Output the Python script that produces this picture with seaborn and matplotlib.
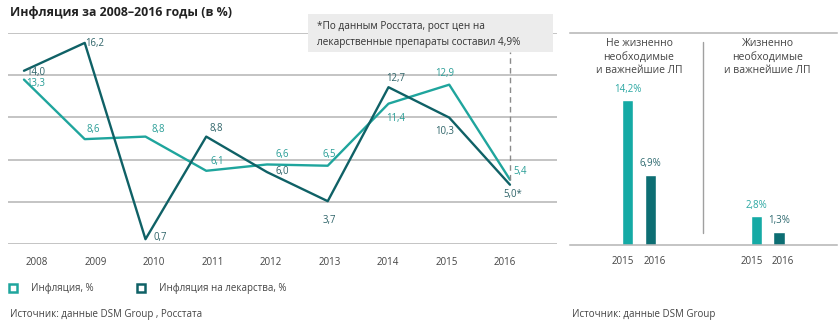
import numpy as np
import pandas as pd
import matplotlib
matplotlib.use("Agg")
import matplotlib.pyplot as plt
from matplotlib.patches import Rectangle
from matplotlib.lines import Line2D
import seaborn as sns

# ---------------- data ----------------
years = ["2008", "2009", "2010", "2011", "2012", "2013", "2014", "2015", "2016"]
inflation = [13.3, 8.6, 8.8, 6.1, 6.6, 6.5, 11.4, 12.9, 5.4]
drug_inflation = [14.0, 16.2, 0.7, 8.8, 6.0, 3.7, 12.7, 10.3, 5.0]
series_names = ["Инфляция, %", "Инфляция на лекарства, %"]

bar_groups = ["Не жизненно\nнеобходимые\nи важнейшие ЛП", "Жизненно\nнеобходимые\nи важнейшие ЛП"]
bar_years = ["2015", "2016"]
bar_values_2015 = [14.2, 2.8]
bar_values_2016 = [6.9, 1.3]

title = "Инфляция за 2008–2016 годы (в %)"
note = "*По данным Росстата, рост цен на\nлекарственные препараты составил 4,9%"
source_left = "Источник: данные DSM Group , Росстата"
source_right = "Источник: данные DSM Group"

# ---------------- style ----------------
LIGHT = "#1fa59d"
DARK = "#0f6166"
BAR_LIGHT = "#15aaa5"
BAR_DARK = "#0d6e73"
GRID = "#b4b4b4"
TXT = "#444444"

sns.set_theme(style="white")
plt.rcParams["font.family"] = ["Open Sans", "DejaVu Sans"]

W, H = 840, 330
fig = plt.figure(figsize=(W / 100, H / 100), dpi=100)
fig.patch.set_facecolor("white")


def fx(px):
    return px / W


def fy(py):
    return 1 - py / H


def axes_rect(left, top, right, bottom):
    return [fx(left), fy(bottom), fx(right) - fx(left), (bottom - top) / H]


# ---------------- line chart ----------------
ax = fig.add_axes(axes_rect(8, 33, 557, 244))
xpos = np.arange(len(years))
df = pd.DataFrame({"x": np.concatenate([xpos, xpos]),
                   "value": inflation + drug_inflation,
                   "series": [series_names[0]] * len(years) + [series_names[1]] * len(years)})
sns.lineplot(data=df, x="x", y="value", hue="series", hue_order=series_names,
             palette=[LIGHT, DARK], linewidth=1.7, legend=False, ax=ax)

ax.set_xlim(-0.263, 8.774)
ymin, ymax = 0.32, 16.98
ax.set_ylim(ymin, ymax)
ax.set_yticks(np.linspace(ymin, ymax, 6))
ax.set_yticklabels([])
ax.grid(axis="y", color=GRID, linewidth=1.1)
ax.grid(axis="x", visible=False)
for s in ax.spines.values():
    s.set_visible(False)
ax.set_xlabel("")
ax.set_ylabel("")
ax.tick_params(axis="y", length=0)
# year labels (slightly offset from the points, as in the original)
tick_pos = 0.214 + 0.963 * np.arange(len(years))
ax.set_xticks(tick_pos)
ax.set_xticklabels(years, fontsize=7.0, color=TXT)
ax.tick_params(axis="x", length=0, pad=9.5)

# data labels (offsets in pixels: dx, dy up)
light_off = [(12, -3.5), (8.5, 10), (12.5, 7), (11.5, 9), (15.5, 10), (1.5, 11), (7, -15), (-4.5, 11), (10.5, 8)]
dark_off = [(12, -1.5), (10, -1), (15, 2), (10.5, 8), (15.5, 1), (1.5, -19), (7, 9), (-4.5, -14), (2.5, -10)]


def fmt(v):
    return f"{v:.1f}".replace(".", ",")


for i, v in enumerate(inflation):
    dx, dy = light_off[i]
    ax.annotate(fmt(v), (xpos[i], v), xytext=(dx * 0.72, dy * 0.72), textcoords="offset points",
                ha="center", va="center", fontsize=6.9, color="#2a9e97")
for i, v in enumerate(drug_inflation):
    dx, dy = dark_off[i]
    lab = fmt(v) + ("*" if i == len(years) - 1 else "")
    ax.annotate(lab, (xpos[i], v), xytext=(dx * 0.72, dy * 0.72), textcoords="offset points",
                ha="center", va="center", fontsize=6.9, color="#2f6469")

# dashed marker at 2016
ax.axvline(xpos[-1], ymin=0.303, ymax=0.91, color="#8a8a8a", linewidth=1.0,
           linestyle=(0, (4, 3)))

# note box
fig.patches.append(Rectangle((fx(308), fy(52)), fx(553) - fx(308), (52 - 14) / H,
                             transform=fig.transFigure, facecolor="#ececec", edgecolor="none", zorder=5))
fig.text(fx(317), fy(34.5), note, fontsize=7.2, color="#333333", ha="left", va="center",
         linespacing=1.5, zorder=6)

# ---------------- bar chart ----------------
bx = fig.add_axes(axes_rect(570, 33, 837, 245))
bdf = pd.DataFrame({"group": [0, 1, 0, 1],
                    "year": [bar_years[0]] * 2 + [bar_years[1]] * 2,
                    "value": bar_values_2015 + bar_values_2016})
sns.barplot(data=bdf, x="group", y="value", hue="year", palette=[BAR_LIGHT, BAR_DARK],
            width=0.35, gap=0.51, legend=False, ax=bx, native_scale=True, saturation=1)
bx.set_xlim(-0.536, 1.538)
bx.set_ylim(0, 20.8)
for s in ["left", "right"]:
    bx.spines[s].set_visible(False)
bx.spines["bottom"].set_color(GRID)
bx.spines["bottom"].set_linewidth(1.1)
bx.spines["top"].set_color(GRID)
bx.spines["top"].set_linewidth(1.1)
bx.set_yticks([])
bx.set_xlabel("")
bx.set_ylabel("")
bx.set_xticks([])

bar_label_colors = ["#2aa7a2", "#2f6a70"]
year_dx = [-4.5, 4.0]
for c_i, cont in enumerate(bx.containers):
    for rect in cont:
        h = rect.get_height()
        xc = rect.get_x() + rect.get_width() / 2
        bx.annotate(fmt(h) + "%", (xc, h), xytext=(0, 8), textcoords="offset points",
                    ha="center", va="center", fontsize=7.0, color=bar_label_colors[c_i])
        bx.annotate(bar_years[c_i], (xc, 0), xytext=(year_dx[c_i] * 0.72, -12.2),
                    textcoords="offset points",
                    ha="center", va="center", fontsize=7.0, color=TXT)

bx.axvline(0.5, ymin=0.057, ymax=0.958, color="#a0a0a0", linewidth=1.0)
for i, g in enumerate(bar_groups):
    bx.text(i, 0.975, g, transform=bx.get_xaxis_transform(), ha="center", va="top",
            fontsize=7.5, color=TXT, linespacing=1.3)

# ---------------- titles, legend, sources ----------------
fig.text(fx(10), fy(12.5), title, fontsize=8.9, fontweight="bold", color="#222222",
         ha="left", va="center")

handles = [Line2D([], [], linestyle="none", marker="s", markersize=5.5, markerfacecolor="white",
                  markeredgecolor=LIGHT, markeredgewidth=1.8),
           Line2D([], [], linestyle="none", marker="s", markersize=5.5, markerfacecolor="white",
                  markeredgecolor=DARK, markeredgewidth=1.8)]
fig.legend(handles, series_names, loc="center left", bbox_to_anchor=(fx(8.6), fy(289)),
           ncol=2, frameon=False, fontsize=7.0, handlelength=1.0, handletextpad=1.3,
           columnspacing=4.4, labelcolor=TXT, borderaxespad=0, borderpad=0)

fig.text(fx(10), fy(315), source_left, fontsize=7.0, color=TXT, ha="left", va="center")
fig.text(fx(572), fy(315), source_right, fontsize=7.0, color=TXT, ha="left", va="center")

fig.savefig("out.png", dpi=100, facecolor="white")
